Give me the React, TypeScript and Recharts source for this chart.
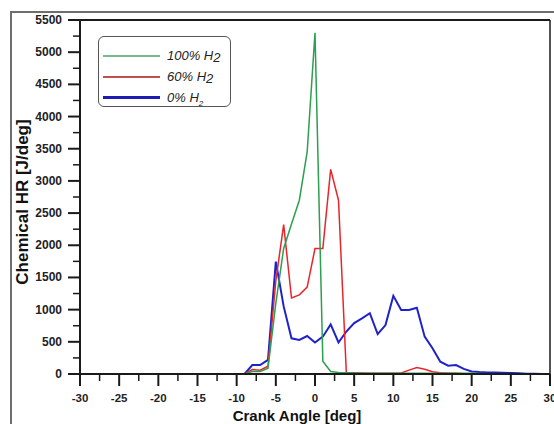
import { LineChart, Line, XAxis, YAxis, Legend, ReferenceLine, Label } from 'recharts';

// crank angle, deg
const angles = [
  -30, -29, -28, -27, -26, -25, -24, -23, -22, -21, -20, -19, -18, -17, -16, -15, -14, -13, -12, -11,
  -10, -9, -8, -7, -6, -5, -4, -3, -2, -1, 0, 1, 2, 3, 4, 5, 6, 7, 8, 9,
  10, 11, 12, 13, 14, 15, 16, 17, 18, 19, 20, 21, 22, 23, 24, 25, 26, 27, 28, 29, 30,
];

// chemical heat release, J/deg
const h2_100 = [
  0, 0, 0, 0, 0, 0, 0, 0, 0, 0, 0, 0, 0, 0, 0, 0, 0, 0, 0, 0,
  0, 0, 40, 40, 90, 1100, 1950, 2330, 2700, 3450, 5300, 200, 40, 25, 20, 15, 10, 10, 10, 10,
  10, 10, 10, 10, 10, 10, 10, 10, 10, 10, 10, 8, 5, 5, 5, 5, 5, 5, 0, 0, 0,
];
const h2_60 = [
  0, 0, 0, 0, 0, 0, 0, 0, 0, 0, 0, 0, 0, 0, 0, 0, 0, 0, 0, 0,
  0, 0, 70, 60, 120, 1450, 2320, 1180, 1230, 1350, 1950, 1950, 3180, 2700, 20, 20, 15, 10, 10, 10,
  10, 15, 60, 100, 75, 35, 20, 10, 10, 5, 5, 5, 5, 5, 5, 5, 0, 0, 0, 0, 0,
];
const h2_0 = [
  0, 0, 0, 0, 0, 0, 0, 0, 0, 0, 0, 0, 0, 0, 0, 0, 0, 0, 0, 0,
  0, 0, 140, 140, 220, 1745, 1050, 555, 530, 590, 490, 580, 770, 490, 660, 790, 865, 945, 620, 760,
  1215, 995, 995, 1030, 580, 400, 190, 130, 140, 80, 40, 30, 25, 25, 20, 15, 10, 5, 5, 0, 0,
];

const xTicks = [
  -30, -27.5, -25, -22.5, -20, -17.5, -15, -12.5, -10, -7.5, -5, -2.5, 0,
  2.5, 5, 7.5, 10, 12.5, 15, 17.5, 20, 22.5, 25, 27.5, 30,
];
const yTicks = [
  0, 250, 500, 750, 1000, 1250, 1500, 1750, 2000, 2250, 2500, 2750, 3000,
  3250, 3500, 3750, 4000, 4250, 4500, 4750, 5000, 5250, 5500,
];

const data = angles.map((a, i) => ({ angle: a, h100: h2_100[i], h60: h2_60[i], h0: h2_0[i] }));

const FONT = '"Liberation Sans", Arial, sans-serif';
const INK = '#1a1a1a';

const XTick = ({ x, y, payload }: any) => {
  const major = payload.value % 5 === 0;
  return (
    <g>
      <line x1={x} x2={x} y1={y} y2={y + (major ? 12 : 7)} stroke={INK} strokeWidth={major ? 2 : 1.5} />
      {major && (
        <text x={x} y={y + 28} textAnchor="middle" fontFamily={FONT} fontWeight="bold" fontSize={11.5} fill="#222">
          {payload.value}
        </text>
      )}
    </g>
  );
};

const YTick = ({ x, y, payload }: any) => {
  const major = payload.value % 500 === 0;
  return (
    <g>
      <line x1={x} x2={x - (major ? 12 : 7)} y1={y} y2={y} stroke={INK} strokeWidth={major ? 2 : 1.5} />
      {major && (
        <text x={x - 18} y={y + 4} textAnchor="end" fontFamily={FONT} fontWeight="bold" fontSize={12} fill="#222">
          {payload.value}
        </text>
      )}
    </g>
  );
};

const legendRows = [
  { color: '#74b98a', main: '100% H', sub: '2', small: false },
  { color: '#c0504d', main: '60% H', sub: '2', small: false },
  { color: '#1c1cb4', main: '0% H', sub: '2', small: true },
];

const LegendBox = () => (
  <div
    style={{
      width: 133,
      height: 71,
      border: '1.5px solid #555',
      borderRadius: 6,
      background: '#fff',
      fontFamily: FONT,
      fontStyle: 'italic',
      fontSize: 13,
      color: '#222',
      boxSizing: 'border-box',
      paddingTop: 8,
    }}
  >
    {legendRows.map((r) => (
      <div key={r.main} style={{ display: 'flex', alignItems: 'center', height: 21 }}>
        <div style={{ marginLeft: 4, width: 57, height: r.small ? 3 : 2, background: r.color }} />
        <span style={{ marginLeft: 7, whiteSpace: 'nowrap' }}>
          {r.main}
          <span style={{ fontSize: r.small ? 8 : 13, position: 'relative', top: r.small ? 4 : 2 }}>{r.sub}</span>
        </span>
      </div>
    ))}
  </div>
);

export default function App() {
  return (
    <div style={{ position: 'absolute', left: 0, top: 0, width: 554, height: 424, overflow: 'hidden', background: '#fff' }}>
      <div
        style={{
          position: 'absolute',
          left: 10,
          top: 11,
          width: 560,
          height: 430,
          borderTop: '2px solid #6e6e6e',
          borderLeft: '2px solid #6e6e6e',
        }}
      />
      <div style={{ position: 'absolute', left: 0, top: 0 }}>
        <LineChart width={554} height={424} data={data} margin={{ top: 20, right: 4, bottom: 0, left: 0 }}>
          <XAxis
            dataKey="angle"
            type="number"
            domain={[-30, 30]}
            ticks={xTicks}
            interval={0}
            tick={<XTick />}
            tickSize={0}
            tickMargin={0}
            tickLine={false}
            axisLine={{ stroke: INK, strokeWidth: 2 }}
            height={50}
          >
            <Label
              content={() => (
                <text x={297} y={421} textAnchor="middle" fontFamily={FONT} fontWeight="bold" fontSize={15} fill="#111">
                  Crank Angle [deg]
                </text>
              )}
            />
          </XAxis>
          <YAxis
            type="number"
            domain={[0, 5500]}
            ticks={yTicks}
            interval={0}
            tick={<YTick />}
            tickSize={0}
            tickMargin={0}
            tickLine={false}
            axisLine={{ stroke: INK, strokeWidth: 2 }}
            width={80}
          >
            <Label
              content={() => (
                <text
                  x={22}
                  y={202}
                  transform="rotate(-90, 22, 202)"
                  textAnchor="middle"
                  dominantBaseline="central"
                  fontFamily={FONT}
                  fontWeight="bold"
                  fontSize={17}
                  fill="#111"
                >
                  Chemical HR [J/deg]
                </text>
              )}
            />
          </YAxis>
          <ReferenceLine y={5500} stroke={INK} strokeWidth={2} />
          <ReferenceLine x={30} stroke={INK} strokeWidth={1.5} />
          <Legend
            layout="horizontal"
            verticalAlign="middle"
            align="center"
            content={<LegendBox />}
            wrapperStyle={{ left: 98, top: 36, width: 133, height: 71 }}
          />
          <Line dataKey="h0" stroke="#1f22c8" strokeWidth={2} dot={false} isAnimationActive={false} />
          <Line dataKey="h60" stroke="#e8262a" strokeWidth={1.5} dot={false} isAnimationActive={false} />
          <Line dataKey="h100" stroke="#2e9e50" strokeWidth={1.5} dot={false} isAnimationActive={false} />
        </LineChart>
      </div>
    </div>
  );
}
